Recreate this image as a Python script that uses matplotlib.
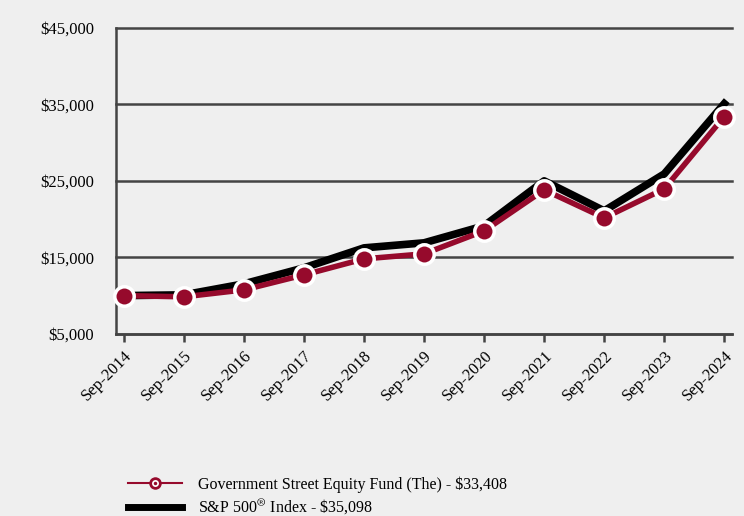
import matplotlib
matplotlib.use("Agg")
import matplotlib.pyplot as plt
from matplotlib.ticker import FuncFormatter
from matplotlib.lines import Line2D
from matplotlib.legend_handler import HandlerTuple

# data
dates = ["Sep-2014", "Sep-2015", "Sep-2016", "Sep-2017", "Sep-2018", "Sep-2019",
         "Sep-2020", "Sep-2021", "Sep-2022", "Sep-2023", "Sep-2024"]
fund = [10000, 9840, 10750, 12710, 14800, 15460, 18460, 23820, 20160, 23950, 33408]
sp500 = [10000, 10100, 11540, 13630, 16240, 16900, 19120, 25000, 21080, 25910, 35098]
y_ticks = [5000, 15000, 25000, 35000, 45000]

fund_label = "Government Street Equity Fund (The) - \\$33,408"
sp_label = "S&P 500$^{\\circledR}$ Index - \\$35,098"

bg = "#efefef"
fund_color = "#960a2c"
grid_color = "#444444"

plt.rcParams["font.family"] = ["Liberation Serif", "DejaVu Serif"]
plt.rcParams["mathtext.fontset"] = "stix"

fig = plt.figure(figsize=(7.44, 5.16), dpi=100, facecolor=bg)
ax = fig.add_axes([0.156, 0.353, 0.828, 0.593], facecolor=bg)

x = list(range(len(dates)))
for v in y_ticks:
    ax.axhline(v, color=grid_color, lw=1.8, zorder=1, clip_on=False)

ax.plot(x, sp500, color="black", lw=5.5, zorder=2)
ax.plot(x, fund, color=fund_color, lw=4, marker="o", ms=14,
        markerfacecolor=fund_color, markeredgecolor="white",
        markeredgewidth=2.5, zorder=3, clip_on=False)

ax.set_xlim(-0.13, 10.13)
ax.set_ylim(5000, 45000)
ax.set_yticks(y_ticks)
ax.yaxis.set_major_formatter(FuncFormatter(lambda v, p: "${:,.0f}".format(v)))
ax.set_xticks(x)
ax.set_xticklabels(dates, rotation=45, ha="right", rotation_mode="anchor")

for s in ["top", "right"]:
    ax.spines[s].set_visible(False)
for s in ["left", "bottom"]:
    ax.spines[s].set_color(grid_color)
    ax.spines[s].set_linewidth(1.8)
ax.tick_params(axis="x", length=6, width=1.8, color=grid_color, labelsize=12, pad=4)
ax.tick_params(axis="y", length=0, labelsize=12, pad=16)

# legend drawn below the axes
h_line = Line2D([], [], color=fund_color, lw=1.5, marker="o", ms=9,
                markerfacecolor=fund_color, markeredgewidth=0)
h_ring = Line2D([], [], ls="none", marker="o", ms=5, markerfacecolor="white", markeredgewidth=0)
h_dot = Line2D([], [], ls="none", marker="o", ms=2.5, markerfacecolor=fund_color, markeredgewidth=0)
h_sp = Line2D([], [], color="black", lw=5)
fig.legend([(h_line, h_ring, h_dot), h_sp], [fund_label, sp_label],
           handler_map={tuple: HandlerTuple(ndivide=1, pad=0)},
           loc="upper left", bbox_to_anchor=(0.163, 0.089), frameon=False,
           fontsize=11.5, handlelength=3.4, handletextpad=1.0, labelspacing=0.3,
           borderaxespad=0)

fig.savefig("out.png", dpi=100, facecolor=bg)
